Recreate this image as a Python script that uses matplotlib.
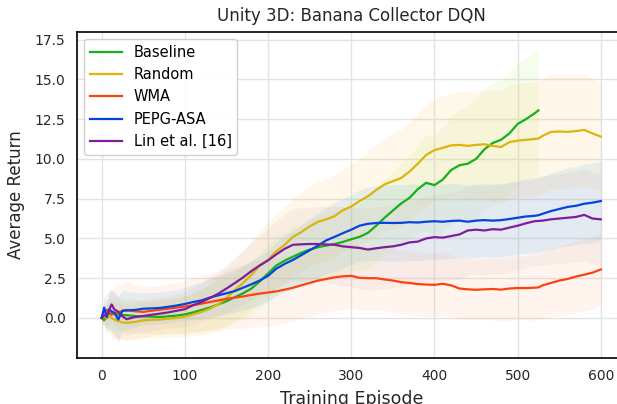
import matplotlib
matplotlib.use('Agg')
import matplotlib.pyplot as plt
import numpy as np

episodes = [0, 3, 6, 9, 12, 15, 20, 25, 30,
            40, 50, 60, 70, 80, 90, 100, 110, 120, 130, 140, 150, 160, 170, 180, 190,
            200, 210, 220, 230, 240, 250, 260, 270, 280, 290, 300, 310, 320, 330, 340,
            350, 360, 370, 380, 390, 400, 410, 420, 430, 440, 450, 460, 470, 480, 490,
            500, 510, 520, 525, 530, 540, 550, 560, 570, 580, 590, 600]

baseline = [0.0, -0.15, 0.2, 0.25, 0.3, 0.25, 0.2, 0.18, 0.17,
            0.12, 0.1, 0.08, 0.06, 0.1, 0.15, 0.22, 0.35, 0.5, 0.65, 0.85, 1.05, 1.3, 1.55, 1.85, 2.3,
            2.8, 3.3, 3.6, 3.85, 4.1, 4.3, 4.45, 4.55, 4.65, 4.78, 4.95, 5.1, 5.35, 5.8, 6.3,
            6.75, 7.2, 7.55, 8.1, 8.5, 8.35, 8.7, 9.3, 9.6, 9.7, 10.0, 10.6, 11.0, 11.2, 11.6,
            12.2, 12.5, 12.85, 13.05]
baseline_std = [0.3, 0.6, 0.8, 0.9, 1.0, 1.0, 1.05, 1.05, 1.05,
                1.05, 1.05, 1.05, 1.1, 1.1, 1.15, 1.2, 1.25, 1.3, 1.4, 1.45, 1.5, 1.6, 1.65, 1.7, 1.75,
                1.8, 1.85, 1.85, 1.9, 1.9, 1.9, 1.95, 1.95, 2.0, 2.0, 2.0, 2.1, 2.2, 2.3, 2.35,
                2.4, 2.5, 2.6, 2.8, 3.0, 3.2, 3.3, 3.4, 3.5, 3.6, 3.8, 3.8, 3.8, 3.8, 3.8,
                3.8, 3.85, 3.9, 3.9]

random_ = [0.0, 0.1, -0.05, 0.1, 0.0, -0.1, -0.2, -0.28, -0.31,
           -0.25, -0.15, -0.12, -0.1, -0.05, 0.0, 0.08, 0.22, 0.38, 0.58, 0.85, 1.25, 1.75, 2.2, 2.7, 3.3,
           3.65, 4.2, 4.6, 5.1, 5.4, 5.75, 6.05, 6.2, 6.4, 6.78, 7.0, 7.35, 7.65, 8.05, 8.4,
           8.6, 8.8, 9.2, 9.7, 10.25, 10.55, 10.7, 10.85, 10.88, 10.82, 10.88, 10.92, 10.82, 10.75, 11.05,
           11.15, 11.2, 11.25, 11.28, 11.45, 11.7, 11.72, 11.7, 11.75, 11.82, 11.6, 11.4]
random_std = [0.3, 0.6, 0.8, 0.9, 1.0, 1.05, 1.1, 1.1, 1.1,
              1.1, 1.1, 1.1, 1.15, 1.15, 1.2, 1.25, 1.35, 1.45, 1.55, 1.7, 1.85, 1.95, 2.05, 2.15, 2.25,
              2.3, 2.35, 2.4, 2.45, 2.5, 2.5, 2.55, 2.55, 2.6, 2.6, 2.6, 2.7, 2.8, 2.9, 2.95,
              3.0, 3.05, 3.1, 3.15, 3.2, 3.2, 3.25, 3.3, 3.35, 3.4, 3.4, 3.45, 3.5, 3.55, 3.6,
              3.6, 3.6, 3.6, 3.6, 3.6, 3.6, 3.6, 3.6, 3.55, 3.5, 3.45, 3.4]

wma = [0.0, 0.45, 0.5, 0.3, 0.2, 0.3, 0.35, 0.45, 0.48,
       0.42, 0.38, 0.45, 0.52, 0.58, 0.65, 0.72, 0.8, 0.9, 1.0, 1.1, 1.2, 1.28, 1.35, 1.45, 1.53,
       1.6, 1.67, 1.78, 1.9, 2.05, 2.2, 2.35, 2.45, 2.55, 2.62, 2.65, 2.52, 2.5, 2.5, 2.42,
       2.35, 2.25, 2.2, 2.13, 2.1, 2.08, 2.15, 2.05, 1.85, 1.8, 1.77, 1.8, 1.82, 1.78, 1.85,
       1.88, 1.88, 1.9, 1.92, 2.05, 2.2, 2.35, 2.45, 2.6, 2.72, 2.85, 3.05]
wma_std = [0.4, 0.8, 1.1, 1.3, 1.5, 1.6, 1.7, 1.75, 1.8,
           1.7, 1.6, 1.55, 1.55, 1.55, 1.6, 1.65, 1.7, 1.75, 1.8, 1.85, 1.9, 1.95, 2.0, 2.05, 2.1,
           2.1, 2.1, 2.1, 2.1, 2.1, 2.1, 2.1, 2.1, 2.1, 2.1, 2.05, 2.05, 2.0, 2.0, 2.0,
           2.0, 2.0, 2.0, 2.0, 2.0, 2.0, 2.0, 1.95, 1.95, 1.9, 1.9, 1.9, 1.95, 1.95, 2.0,
           2.0, 2.0, 2.05, 2.05, 2.1, 2.15, 2.2, 2.2, 2.25, 2.3, 2.3, 2.3]

pepg = [0.0, 0.65, 0.05, 0.55, 0.4, 0.35, -0.1, 0.45, 0.48,
        0.5, 0.58, 0.6, 0.63, 0.7, 0.78, 0.88, 1.0, 1.1, 1.28, 1.42, 1.55, 1.69, 1.9, 2.12, 2.35,
        2.65, 3.1, 3.4, 3.65, 3.95, 4.25, 4.55, 4.88, 5.1, 5.33, 5.55, 5.8, 5.92, 5.97, 5.98,
        5.97, 5.98, 6.02, 6.0, 6.05, 6.08, 6.05, 6.1, 6.12, 6.05, 6.12, 6.15, 6.12, 6.15, 6.22,
        6.3, 6.38, 6.42, 6.46, 6.55, 6.72, 6.85, 6.98, 7.05, 7.18, 7.25, 7.35]
pepg_std = [0.3, 0.7, 1.0, 1.2, 1.3, 1.35, 1.4, 1.3, 1.2,
            1.1, 1.0, 1.0, 1.0, 1.0, 1.0, 1.05, 1.1, 1.15, 1.2, 1.25, 1.3, 1.35, 1.4, 1.5, 1.55,
            1.6, 1.7, 1.8, 1.85, 1.9, 2.0, 2.05, 2.1, 2.15, 2.2, 2.2, 2.25, 2.3, 2.35, 2.4,
            2.4, 2.4, 2.4, 2.4, 2.4, 2.4, 2.35, 2.35, 2.3, 2.3, 2.3, 2.3, 2.3, 2.3, 2.3,
            2.3, 2.3, 2.35, 2.35, 2.35, 2.4, 2.4, 2.45, 2.45, 2.5, 2.5, 2.5]

lin = [0.0, 0.15, 0.2, 0.5, 0.85, 0.55, 0.38, 0.1, -0.08,
       0.06, 0.12, 0.2, 0.27, 0.35, 0.45, 0.55, 0.8, 1.0, 1.25, 1.52, 1.85, 2.19, 2.55, 2.95, 3.3,
       3.62, 4.0, 4.35, 4.6, 4.63, 4.65, 4.65, 4.62, 4.6, 4.5, 4.45, 4.4, 4.3, 4.38, 4.45,
       4.5, 4.6, 4.75, 4.8, 5.0, 5.08, 5.05, 5.15, 5.25, 5.5, 5.55, 5.5, 5.58, 5.55, 5.68,
       5.8, 5.95, 6.08, 6.1, 6.12, 6.2, 6.25, 6.3, 6.35, 6.48, 6.25, 6.2]
lin_std = [0.3, 0.6, 0.8, 0.9, 1.0, 1.0, 1.0, 1.0, 1.0,
           1.0, 1.0, 1.0, 1.0, 1.0, 1.05, 1.1, 1.15, 1.2, 1.3, 1.4, 1.5, 1.6, 1.7, 1.8, 1.9,
           2.0, 2.1, 2.2, 2.25, 2.3, 2.3, 2.35, 2.4, 2.45, 2.5, 2.5, 2.55, 2.55, 2.6, 2.6,
           2.6, 2.65, 2.65, 2.7, 2.7, 2.7, 2.75, 2.75, 2.8, 2.8, 2.8, 2.8, 2.8, 2.8, 2.8,
           2.8, 2.8, 2.8, 2.8, 2.8, 2.8, 2.8, 2.85, 2.85, 2.9, 2.9, 2.9]

labels = ["Baseline", "Random", "WMA", "PEPG-ASA", "Lin et al. [16]"]
line_colors = ["#15b01a", "#dbb40c", "#fe420f", "#0343df", "#7e1e9c"]
band_colors = ["#b8f07a", "#ffc24a", "#ffa865", "#5ab4e6", "#d09aa8"]
band_alpha = [0.13, 0.12, 0.11, 0.14, 0.11]

series = [(baseline, baseline_std), (random_, random_std), (wma, wma_std),
          (pepg, pepg_std), (lin, lin_std)]

fig = plt.figure(figsize=(6.17, 4.04), dpi=100)
ax = fig.add_axes([0.1243, 0.1146, 0.890, 0.807])

for (mean, std), bc, a in zip(series, band_colors, band_alpha):
    x = np.array(episodes[:len(mean)])
    m = np.array(mean)
    s = np.array(std)
    ax.fill_between(x, m - s, m + s, color=bc, alpha=a, lw=0)

for (mean, std), lc, lab in zip(series, line_colors, labels):
    x = episodes[:len(mean)]
    ax.plot(x, mean, color=lc, lw=1.6, label=lab)

ax.set_xlim(-30, 630)
ax.set_ylim(-2.5, 18.0)
ax.set_xticks([0, 100, 200, 300, 400, 500, 600])
ax.set_yticks([0, 2.5, 5, 7.5, 10, 12.5, 15, 17.5])
ax.yaxis.set_major_formatter(matplotlib.ticker.FormatStrFormatter('%.1f'))
ax.grid(True, color='#e3e3e3', lw=1.0)
ax.set_axisbelow(True)
ax.tick_params(length=0, pad=8, labelsize=10, labelcolor='#262626')
for sp in ax.spines.values():
    sp.set_color('black')
    sp.set_linewidth(1.2)

ax.set_title("Unity 3D: Banana Collector DQN", fontsize=12, color='#262626', pad=8)
ax.set_xlabel("Training Episode", fontsize=12.5, color='#262626', labelpad=5)
ax.set_ylabel("Average Return", fontsize=12, color='#262626', labelpad=7)

leg = ax.legend(loc='upper left', fontsize=10.5, frameon=True, fancybox=True,
                edgecolor='#cccccc', framealpha=0.9, handlelength=2.2,
                borderaxespad=0.5)
for line in leg.get_lines():
    line.set_linewidth(1.6)

fig.savefig('out.png', dpi=100)
